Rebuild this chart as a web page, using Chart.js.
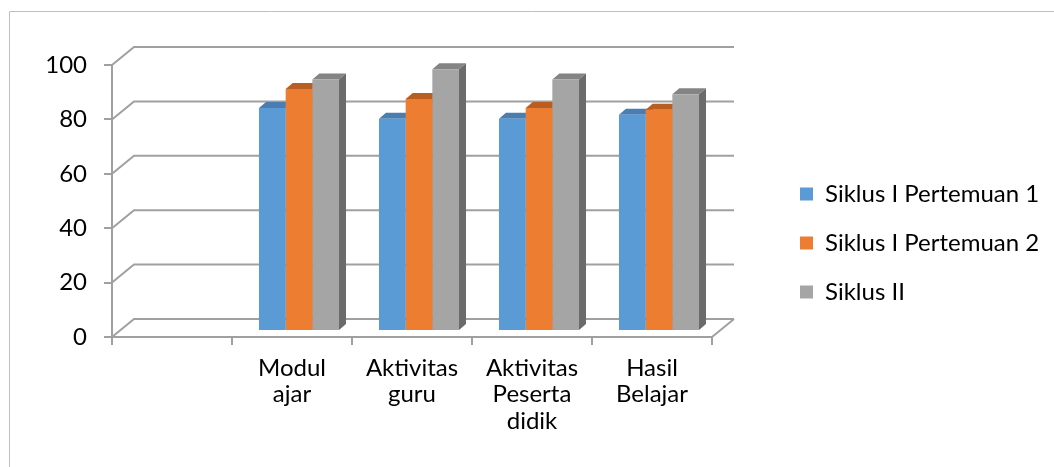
<!DOCTYPE html>
<html>
<head>
<meta charset="utf-8">
<script src="https://cdn.jsdelivr.net/npm/chart.js@4.4.1/dist/chart.umd.min.js"></script>
<style>
  html, body { margin: 0; padding: 0; background: #fff; }
  #wrap { width: 1054px; height: 467px; position: relative; }
</style>
</head>
<body>
<div id="wrap"><canvas id="chart"></canvas></div>
<script>
// ---------------- data ----------------
const categories = ["", ["Modul", "ajar"], ["Aktivitas", "guru"], ["Aktivitas", "Peserta", "didik"], ["Hasil", "Belajar"]];
const seriesNames = ["Siklus I Pertemuan 1", "Siklus I Pertemuan 2", "Siklus II"];
const siklus1Pertemuan1 = [null, 82, 78, 78, 79.5];
const siklus1Pertemuan2 = [null, 89, 85.3, 82, 81.3];
const siklus2 = [null, 92.5, 96.2, 92.5, 87];
const yTicks = [0, 20, 40, 60, 80, 100];

// ---------------- styles ----------------
const frontColors = ['#5B9BD5', '#ED7D31', '#A5A5A5'];
const topColors = ['#4A7EB0', '#B85E22', '#848484'];
const sideColors = ['#41709C', '#A4531D', '#6B6B6B'];
const lineGray = '#A0A0A0';
const wallDepth = { dx: 22, dy: -18 };  // back wall offset from the front axis
const barShift = { dx: 7, dy: -6 };     // bars stand a third of the way back
const barDepth = { dx: 7, dy: -6 };
const fontFamily = 'Lato, "Open Sans", sans-serif';
const fontSize = 24;

Chart.defaults.font.family = fontFamily;
Chart.defaults.color = '#000';

// draws the 3d walls, floor and the top/side of each bar
const wall3d = {
  id: 'wall3d',
  beforeLayout(chart) {
    const legend = chart.legend;
    if (legend && !legend._fixedWidth) {
      const fit = legend.fit;
      legend.fit = function () { fit.call(this); this.width = 342; };
      legend._fixedWidth = true;
    }
  },
  afterLayout(chart) {
    const legend = chart.legend;
    const pad = legend.options.labels.padding;
    legend.left = 800 - pad;
    legend.top = 182 - pad;
  },
  beforeDraw(chart) {
    const { ctx, chartArea, scales: { y } } = chart;
    ctx.save();
    ctx.strokeStyle = '#BFBFBF';
    ctx.lineWidth = 1;
    ctx.beginPath();
    ctx.moveTo(9.5, chart.height);
    ctx.lineTo(9.5, 11.5);
    ctx.lineTo(chart.width, 11.5);
    ctx.stroke();

    ctx.strokeStyle = lineGray;
    ctx.lineWidth = 2;
    yTicks.forEach(v => {
      const py = y.getPixelForValue(v);
      ctx.beginPath();
      ctx.moveTo(chartArea.left, py);
      ctx.lineTo(chartArea.left + wallDepth.dx, py + wallDepth.dy);
      ctx.lineTo(chartArea.right + wallDepth.dx, py + wallDepth.dy);
      ctx.stroke();
    });
    const p0 = y.getPixelForValue(0);
    ctx.beginPath();
    ctx.moveTo(chartArea.right, p0);
    ctx.lineTo(chartArea.right + wallDepth.dx, p0 + wallDepth.dy);
    ctx.stroke();
    ctx.restore();
  },
  beforeDatasetsDraw(chart) {
    const ctx = chart.ctx;
    ctx.save();
    ctx.translate(barShift.dx, barShift.dy);
    chart.data.datasets.forEach((ds, di) => {
      const meta = chart.getDatasetMeta(di);
      meta.data.forEach((bar, i) => {
        if (ds.data[i] == null) return;
        const { x, y, base, width } = bar.getProps(['x', 'y', 'base', 'width'], true);
        const l = x - width / 2, r = x + width / 2;
        ctx.fillStyle = topColors[di];
        ctx.beginPath();
        ctx.moveTo(l, y);
        ctx.lineTo(r, y);
        ctx.lineTo(r + barDepth.dx, y + barDepth.dy);
        ctx.lineTo(l + barDepth.dx, y + barDepth.dy);
        ctx.closePath();
        ctx.fill();
        ctx.fillStyle = sideColors[di];
        ctx.beginPath();
        ctx.moveTo(r, y);
        ctx.lineTo(r + barDepth.dx, y + barDepth.dy);
        ctx.lineTo(r + barDepth.dx, base + barDepth.dy);
        ctx.lineTo(r, base);
        ctx.closePath();
        ctx.fill();
      });
    });
  },
  afterDatasetsDraw(chart) {
    chart.ctx.restore();
  }
};

const allSeries = [siklus1Pertemuan1, siklus1Pertemuan2, siklus2];

new Chart(document.getElementById('chart'), {
  type: 'bar',
  data: {
    labels: categories,
    datasets: allSeries.map((values, i) => ({
      label: seriesNames[i],
      data: values,
      backgroundColor: frontColors[i],
      borderWidth: 0,
      clip: false,
      categoryPercentage: 0.667,
      barPercentage: 1
    }))
  },
  options: {
    responsive: true,
    maintainAspectRatio: false,
    animation: false,
    layout: { padding: { top: 65, left: 0, right: 0, bottom: 0 } },
    scales: {
      x: {
        ticks: { color: '#000', font: { size: fontSize, lineHeight: 1.1 }, padding: 10, maxRotation: 0, autoSkip: false },
        grid: { drawOnChartArea: false, drawTicks: true, tickLength: 8, color: lineGray, lineWidth: 2, offset: true },
        border: { display: true, color: lineGray, width: 2 },
        afterFit(s) { s.height = 130; }
      },
      y: {
        min: 0,
        max: 100,
        afterBuildTicks(s) { s.ticks = yTicks.map(v => ({ value: v })); },
        ticks: { color: '#000', font: { size: fontSize }, padding: 17 },
        grid: { drawOnChartArea: false, drawTicks: true, tickLength: 8, color: lineGray, lineWidth: 2 },
        border: { display: true, color: lineGray, width: 2 },
        afterFit(s) { s.width = 112; }
      }
    },
    plugins: {
      legend: {
        position: 'right',
        align: 'start',
        labels: { boxWidth: 13, boxHeight: 13, padding: 25, color: '#000', font: { size: fontSize } }
      },
      tooltip: { enabled: false }
    }
  },
  plugins: [wall3d]
});
</script>
</body>
</html>
